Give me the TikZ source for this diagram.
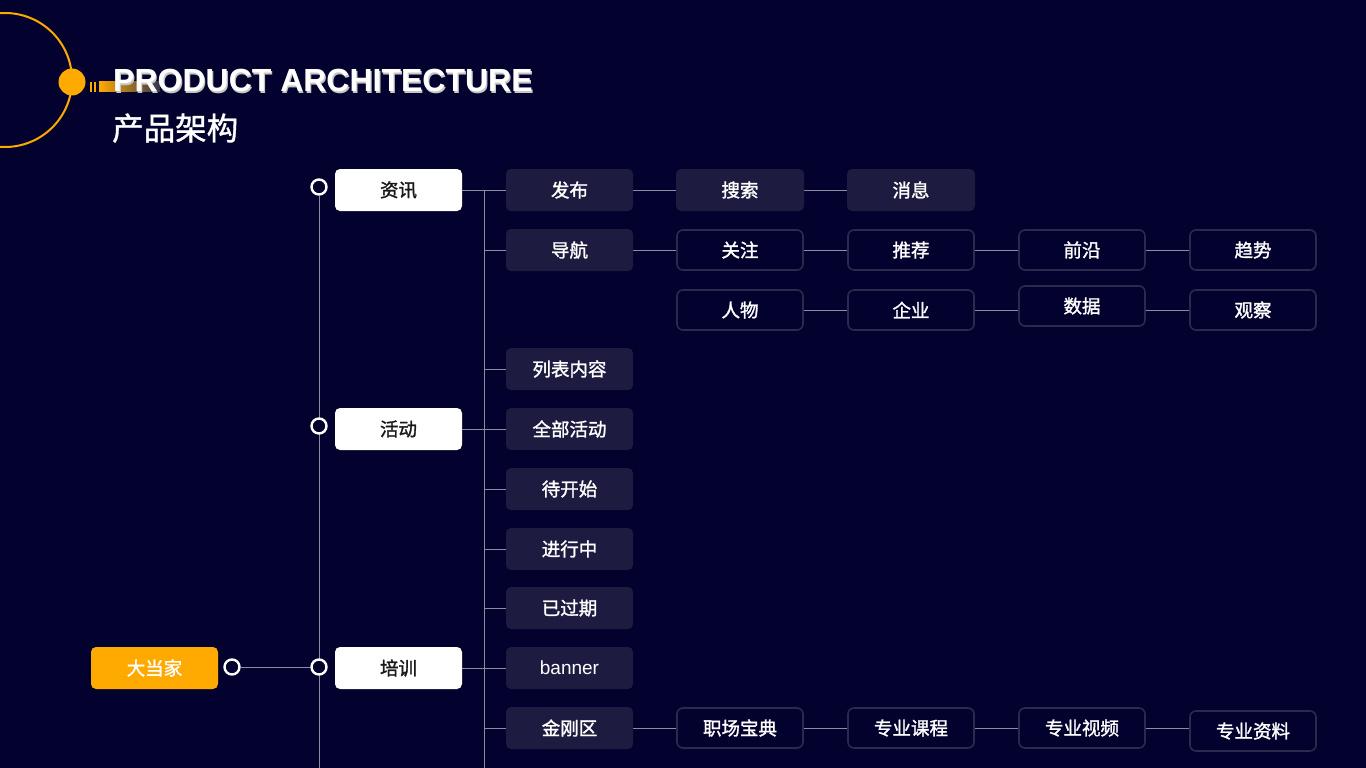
\documentclass[tikz,border=0pt]{standalone}
\usepackage{fontspec}
\setmainfont{Liberation Sans}
\newfontfamily\cjk{Noto Sans CJK SC}[FakeBold=1.5]
\newfontfamily\cjkt{Noto Sans CJK SC}[FakeBold=1.2]
\usetikzlibrary{positioning}
\definecolor{bgc}{HTML}{03022E}
\definecolor{boxc}{HTML}{1D1C40}
\definecolor{edgec}{HTML}{2A2A4E}
\definecolor{orng}{HTML}{FFAA00}
\definecolor{linec}{HTML}{8C8CA0}
\pgfdeclarelayer{bglayer}
\pgfdeclarelayer{lines}
\pgfsetlayers{bglayer,lines,main}
\tikzset{
  lvlone/.style={rectangle, rounded corners=5pt, fill=white, text=black!90, minimum width=127pt, minimum height=42pt, inner sep=0pt, font=\cjk\fontsize{18.5}{20}\selectfont},
  lvltwo/.style={rectangle, rounded corners=5pt, fill=boxc, text=white, minimum width=127pt, minimum height=42pt, inner sep=0pt, font=\cjk\fontsize{18.5}{20}\selectfont},
  lvlthree/.style={rectangle, rounded corners=6pt, draw=edgec, line width=1.6pt, fill=bgc, text=white, minimum width=126pt, minimum height=40pt, inner sep=0pt, font=\cjk\fontsize{18.5}{20}\selectfont},
  rootbox/.style={rectangle, rounded corners=5pt, fill=orng, text=white, minimum width=127pt, minimum height=42pt, inner sep=0pt, font=\cjk\fontsize{18.5}{20}\selectfont},
  ring/.style={circle, draw=white, line width=2.4pt, fill=bgc, minimum size=15pt, inner sep=0pt},
  conn/.style={draw=linec, line width=0.9pt},
}
\begin{document}
\begin{tikzpicture}[x=1pt,y=-1pt]
\begin{pgfonlayer}{bglayer}
\fill[bgc] (0,0) rectangle (1366,768);
\end{pgfonlayer}
\useasboundingbox (0,0) rectangle (1366,768);
% header decoration
\draw[orng, line width=2pt] (5,80) circle[radius=67];
\fill[orng] (72,82) circle[radius=13.5];
\fill[orng] (89.5,82) rectangle (91.5,92);
\fill[orng] (94,82) rectangle (96,92);
\shade[left color=orng, right color=bgc!60!gray] (99,82) rectangle (160,92);
\node[anchor=base west, inner sep=0pt, text=gray!45, font=\bfseries\fontsize{32}{34}\selectfont] at (114.2,93.2) {PRODUCT ARCHITECTURE};
\node[anchor=base west, inner sep=0pt, text=white, font=\bfseries\fontsize{32}{34}\selectfont] (title) at (113,92) {PRODUCT ARCHITECTURE};
\node[anchor=base west, inner sep=0pt, text=white, font=\cjkt\fontsize{31.5}{33}\selectfont] (subtitle) at (112,140) {产品架构};

% root
\node[rootbox] (root) at (154.5,668) {大当家};
\node[ring] (r0) at (232,667) {};

% level 1
\node[ring] (c1) at (319,187) {};
\node[ring] (c2) at (319,426) {};
\node[ring] (c3) at (319,667) {};
\coordinate (bot1) at (319,768);
\node[lvlone] (zx) at (398.5,190) {资讯};
\node[lvlone] (hd) at (398.5,429) {活动};
\node[lvlone] (px) at (398.5,668) {培训};

% level 2
\coordinate (top2) at (484,190);
\coordinate (bot2) at (484,768);
\node[lvltwo] (fb) at (569.5,190) {发布};
\node[lvltwo] (dh) at (569.5,250) {导航};
\node[lvltwo] (lb) at (569.5,369) {列表内容};
\node[lvltwo] (qb) at (569.5,429) {全部活动};
\node[lvltwo] (dk) at (569.5,489) {待开始};
\node[lvltwo] (jx) at (569.5,549) {进行中};
\node[lvltwo] (yg) at (569.5,608) {已过期};
\node[lvltwo, font=\fontsize{19}{20}\selectfont] (bn) at (569.5,668) {banner};
\node[lvltwo] (jg) at (569.5,728) {金刚区};

% level 3
\node[lvltwo, minimum width=128pt] (ss) at (740,190) {搜索};
\node[lvltwo, minimum width=128pt] (xx) at (911,190) {消息};
\node[lvlthree] (gz) at (740,250) {关注};
\node[lvlthree] (tj) at (911,250) {推荐};
\node[lvlthree] (qy) at (1082,250) {前沿};
\node[lvlthree] (qs) at (1253,250) {趋势};
\node[lvlthree] (rw) at (740,310) {人物};
\node[lvlthree] (qiye) at (911,310) {企业};
\node[lvlthree] (sj) at (1082,306) {数据};
\node[lvlthree] (gc) at (1253,310) {观察};
\node[lvlthree] (zc) at (740,728) {职场宝典};
\node[lvlthree] (kc) at (911,728) {专业课程};
\node[lvlthree] (sp) at (1082,728) {专业视频};
\node[lvlthree] (zl) at (1253,731) {专业资料};

\begin{pgfonlayer}{lines}
\draw[conn] (r0) -- (c3);
\draw[conn] (c1) -- (bot1);
\draw[conn] (zx.east) -- (fb.west);
\draw[conn] (hd.east) -- (qb.west);
\draw[conn] (px.east) -- (bn.west);
\draw[conn] (top2) -- (bot2);
\foreach \n in {dh,lb,dk,jx,yg,jg} \draw[conn] (\n.west) -- (\n.west -| top2);
\draw[conn] (fb) -- (ss);
\draw[conn] (ss) -- (xx);
\draw[conn] (dh) -- (gz);
\draw[conn] (gz) -- (tj);
\draw[conn] (tj) -- (qy);
\draw[conn] (qy) -- (qs);
\draw[conn] (rw) -- (qiye);
\draw[conn] (qiye.east) -- (qiye.east -| sj.west);
\draw[conn] (sj.east |- gc.west) -- (gc.west);
\draw[conn] (jg) -- (zc);
\draw[conn] (zc) -- (kc);
\draw[conn] (kc) -- (sp);
\draw[conn] (sp.east) -- (sp.east -| zl.west);
\end{pgfonlayer}
\end{tikzpicture}
\end{document}
